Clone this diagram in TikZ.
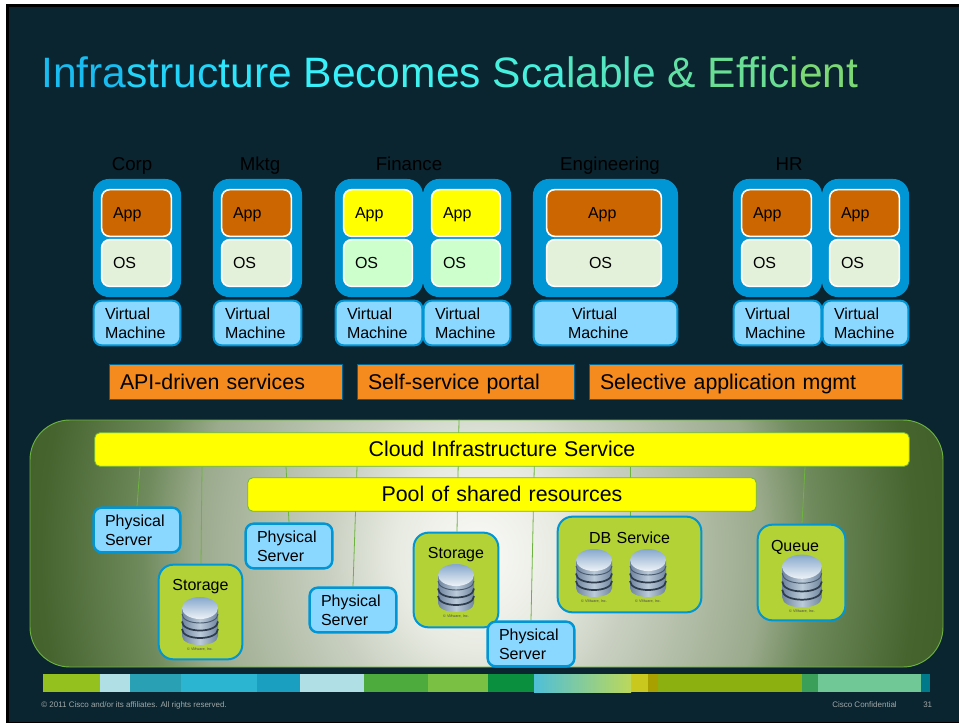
\documentclass[tikz,border=0pt]{standalone}
\usepackage{fontspec}
\setmainfont{Liberation Sans}
\usetikzlibrary{calc}
\pgfdeclarelayer{back}\pgfdeclarelayer{lines}
\pgfsetlayers{back,lines,main}
\definecolor{slidebg}{HTML}{0A2530}
\definecolor{vmblue}{HTML}{0095D5}
\definecolor{skyfill}{HTML}{8AD8FF}
\definecolor{appbrown}{HTML}{CC6600}
\definecolor{ospale}{HTML}{E3F0DA}
\definecolor{osmint}{HTML}{CCFFCC}
\definecolor{orangefill}{HTML}{F58A1F}
\definecolor{limefill}{HTML}{B2D235}
\definecolor{linkgreen}{HTML}{6DB33F}
\definecolor{footgrey}{HTML}{A0A8A8}
\definecolor{panelouter}{HTML}{3D5C26}
\definecolor{panelA}{HTML}{FAFAF7}
\definecolor{panelAB}{HTML}{E8EBE2}
\definecolor{panelB}{HTML}{C8CFC0}
\definecolor{panelC}{HTML}{9AAA8C}
\definecolor{panelCD}{HTML}{6F8A5C}
\definecolor{panelD}{HTML}{45642E}
\definecolor{pureyellow}{RGB}{255,255,0}
\definecolor{dbtop}{HTML}{86A8CC}
\definecolor{dbpale}{HTML}{EEF3F7}
\definecolor{dbside}{HTML}{6F859E}
\definecolor{dbmid}{HTML}{BCCBDA}
\definecolor{dbdark}{HTML}{2E3C4C}
\pgfdeclareradialshading{panelshade}{\pgfpoint{0bp}{0bp}}{
 color(0bp)=(panelA);
 color(8bp)=(panelAB);
 color(15bp)=(panelB);
 color(28bp)=(panelC);
 color(33bp)=(panelCD);
 color(43bp)=(panelD);
 color(50bp)=(panelouter);
 color(100bp)=(panelouter)}
\newcommand{\bx}[8]{%
 \pgfmathsetmacro\bxw{(#5-#3)*0.75-1}\pgfmathsetmacro\bxh{(#6-#4)*0.75-1}\pgfmathsetmacro\bxt{(#5-#3-2*#7)*0.75}\pgfmathsetmacro\bxp{#7*0.75-0.5}%
 \node[#1,minimum width=\bxw pt,minimum height=\bxh pt,text width=\bxt pt,inner xsep=\bxp pt,inner ysep=0pt] (#2) at ({(#3+#5)/2},{(#4+#6)/2}) {#8};}
\tikzset{
 tenant/.style={font=\fontsize{14}{16}\selectfont,text=black,anchor=base,inner sep=0pt},
 hostbg/.style={draw=none,fill=vmblue,rounded corners=12pt},
 appbox/.style={draw=white,line width=1.2pt,fill=#1,rounded corners=6pt,align=left,font=\fontsize{12}{14.4}\selectfont,text=black,text height=10pt,text depth=2pt},
 vmbox/.style={draw=vmblue,line width=1.5pt,fill=skyfill,rounded corners=6pt,align=left,font=\fontsize{12}{14.4}\selectfont,text=black},
 srvbox/.style={draw=vmblue,line width=1.8pt,fill=skyfill,rounded corners=6pt,align=left,font=\fontsize{12}{14.4}\selectfont,text=black},
 limebox/.style={draw=vmblue,line width=1.5pt,fill=limefill,rounded corners=11pt,align=#1,font=\fontsize{12}{14.4}\selectfont,text=black},
 orangebox/.style={draw=vmblue!70!black,line width=0.6pt,fill=orangefill,align=left,font=\fontsize{16}{19}\selectfont,text=black,text height=13pt,text depth=2.5pt},
 yellowbar/.style={draw=linkgreen,line width=0.6pt,fill=pureyellow,rounded corners=4pt,align=center,font=\fontsize{16}{19}\selectfont,text=black,text height=13.5pt,text depth=3pt},
 link/.style={draw=linkgreen,line width=0.6pt},
 foot/.style={font=\fontsize{6}{7}\selectfont,text=footgrey,anchor=west,inner sep=0pt},
 pics/dbicon/.style n args={1}{code={
  \begin{scope}[scale=#1]
   \shade[left color=dbside,right color=dbside,middle color=dbmid]
     (-18,-13) -- (-18,15) .. controls (-18,27) and (18,27) .. (18,15) -- (18,-13) -- cycle;
   \foreach \yy in {0.5,8}{
     \draw[dbdark,line width=1.3pt] (-18,\yy) .. controls (-18,\yy+12) and (18,\yy+12) .. (18,\yy);}
   \draw[dbdark!60!dbside,line width=0.7pt] (-18,-7) .. controls (-18,5) and (18,5) .. (18,-7);
   \shade[top color=dbtop,bottom color=dbpale] (0,-13) ellipse[x radius=18,y radius=11];
   \node[font=\fontsize{2.8}{3}\selectfont,text=black!70,inner sep=0pt] at (0,28) {© VMware, Inc.};
  \end{scope}}}
}
\begin{document}
\begin{tikzpicture}[x=0.75pt,y=-0.75pt]
\useasboundingbox (0,0) rectangle (959,723);
\begin{pgfonlayer}{back}
 \fill[white] (0,0) rectangle (959,723);
 \fill[black] (6,4) rectangle (959,723);
 \fill[slidebg] (9,7) rectangle (959,721.5);
 \begin{scope}
  \clip[rounded corners=30pt] (30,420) rectangle (943,667);
  \begin{scope}[cm={7.6,0,0,8.6,(478,555)}]
   \pgflowlevelsynccm
   \pgfuseshading{panelshade}
  \end{scope}
 \end{scope}
 \node[draw=linkgreen,line width=0.7pt,rounded corners=30pt,minimum width=684.75pt,minimum height=185.25pt,inner sep=0pt] (panel) at (486.5,543.5) {};
 % colour strip
 \foreach \a/\b/\c in {43/100/95C11F,100/130/B0DFE5,130/181/2AA0B5,181/257/2BB5D0,257/300/1A9FC0,300/364/B0DFE5,364/428/4DAA3C,428/488/7AC143,488/534/0A8F3E,631/648/C8C81E,648/658/A8A000,658/802/8CB010,802/818/3A9F58,818/921/70C896,921/930/007A8A}{
  \definecolor{stripc}{HTML}{\c}
  \fill[stripc] (\a,674) rectangle (\b,692);}
 \definecolor{stripa}{HTML}{4FBFD8}\definecolor{stripb}{HTML}{BCD85A}
 \shade[left color=stripa,right color=stripb] (534,674) rectangle (631,692);
\end{pgfonlayer}

\node[anchor=base west,inner sep=0pt,font=\fontsize{31.9}{38}\selectfont] (title) at (41,88) {%
\textcolor[HTML]{18BCF0}{Infra}\textcolor[HTML]{24D4F8}{struc}\textcolor[HTML]{2EE6FC}{ture }\textcolor[HTML]{38F0FA}{Bec}\textcolor[HTML]{40F2EE}{omes }\textcolor[HTML]{46F0DC}{Sca}\textcolor[HTML]{54E6C0}{lable }\textcolor[HTML]{62E0A4}{\& }\textcolor[HTML]{6ADE94}{Effic}\textcolor[HTML]{7CD874}{ient}};

\node[tenant] (corp) at (132,171) {Corp};
\node[tenant] (mktg) at (260,171) {Mktg};
\node[tenant] (fin) at (409,171) {Finance};
\node[tenant] (eng) at (610,171) {Engineering};
\node[tenant] (hr) at (789,171) {HR};

% host 1
\bx{hostbg}{h1}{92.3}{178.3}{181.7}{297.7}{0}{}
\bx{appbox=appbrown}{a1}{101}{189}{172}{237}{12}{App}
\bx{appbox=ospale}{o1}{101}{239}{172}{287}{12}{OS}
\bx{vmbox}{v1}{93}{300}{181}{346}{12}{Virtual\\Machine}
% host 2
\bx{hostbg}{h2}{212.3}{178.3}{302.7}{297.7}{0}{}
\bx{appbox=appbrown}{a2}{221}{189}{292}{237}{12}{App}
\bx{appbox=ospale}{o2}{221}{239}{292}{287}{12}{OS}
\bx{vmbox}{v2}{213}{300}{302}{346}{12}{Virtual\\Machine}
% host 3
\bx{hostbg}{h3}{334.3}{178.3}{423.7}{297.7}{0}{}
\bx{appbox=pureyellow}{a3}{343}{189}{413}{237}{12}{App}
\bx{appbox=osmint}{o3}{343}{239}{413}{287}{12}{OS}
\bx{vmbox}{v3}{335}{300}{423}{346}{12}{Virtual\\Machine}
% host 4
\bx{hostbg}{h4}{422.3}{178.3}{511.7}{297.7}{0}{}
\bx{appbox=pureyellow}{a4}{431}{189}{501}{237}{12}{App}
\bx{appbox=osmint}{o4}{431}{239}{501}{287}{12}{OS}
\bx{vmbox}{v4}{423}{300}{511}{346}{12}{Virtual\\Machine}
% host 5
\bx{hostbg}{h5}{532.3}{178.3}{678.7}{297.7}{0}{}
\bx{appbox=appbrown}{a5}{546}{189}{662}{237}{42}{App}
\bx{appbox=ospale}{o5}{546}{239}{662}{287}{43}{OS}
\bx{vmbox}{v5}{533}{300}{678}{346}{35}{\hspace*{3pt}Virtual\\Machine}
% host 6
\bx{hostbg}{h6}{732.3}{178.3}{822.7}{297.7}{0}{}
\bx{appbox=appbrown}{a6}{741}{189}{812}{237}{12}{App}
\bx{appbox=ospale}{o6}{741}{239}{812}{287}{12}{OS}
\bx{vmbox}{v6}{733}{300}{822}{346}{12}{Virtual\\Machine}
% host 7
\bx{hostbg}{h7}{821.3}{178.3}{909.7}{297.7}{0}{}
\bx{appbox=appbrown}{a7}{829}{189}{900}{237}{12}{App}
\bx{appbox=ospale}{o7}{829}{239}{900}{287}{12}{OS}
\bx{vmbox}{v7}{822}{300}{909}{346}{12}{Virtual\\Machine}

\bx{orangebox}{api}{109}{364}{343}{400}{11}{API-driven services}
\bx{orangebox}{self}{357}{364}{575}{400}{11}{Self-service portal}
\bx{orangebox}{sel}{589}{364}{903}{400}{11}{Selective application mgmt}

\bx{yellowbar}{cloud}{94}{432}{910}{467}{0}{Cloud Infrastructure Service}
\bx{yellowbar}{pool}{247}{477}{757}{512}{0}{Pool of shared resources}

\bx{srvbox}{ps1}{93}{507}{181}{553}{12}{Physical\\Server}
\bx{srvbox}{ps2}{245}{523}{333}{569}{12}{Physical\\Server}
\bx{srvbox}{ps3}{309}{587}{397}{633}{12}{Physical\\Server}
\bx{limebox=center}{st1}{158}{564}{243}{660}{0}{Storage\\[26pt]\mbox{}}
\bx{limebox=center}{st2}{413}{532}{499}{628}{0}{Storage\\[26pt]\mbox{}}
\bx{limebox=center}{db}{557}{516}{702}{613}{0}{DB Service\\[26pt]\mbox{}}
\bx{limebox=left}{qu}{757}{524}{846}{621}{14}{Queue\\[26pt]\mbox{}}
\bx{srvbox}{ps4}{487}{621}{575}{667}{12}{Physical\\Server}

\pic at (200,621) {dbicon={1}};
\pic at (456,588) {dbicon={1}};
\pic at (594,573) {dbicon={1}};
\pic at (648,573) {dbicon={1}};
\pic at (802,581) {dbicon={1.1}};

\begin{pgfonlayer}{lines}
 \draw[link] (cloud.south -| 140,0) -- (ps1.north -| 137,0);
 \draw[link] (cloud.south -| 202,0) -- (st1.north -| 201,0);
 \draw[link] (cloud.south -| 286,0) -- (ps2.north -| 289,0);
 \draw[link] (cloud.south -| 357,0) -- (ps3.north -| 353,0);
 \draw[link] (panel.north -| 459,0) -- (st2.north -| 457,0);
 \draw[link] (cloud.north -| 535,0) -- (ps4.north -| 531,0);
 \draw[link] (cloud.south -| 630,0) -- (db.north -| 630,0);
 \draw[link] (cloud.south -| 805,0) -- (qu.north -| 802,0);
\end{pgfonlayer}

\node[foot] (copy) at (41,705) {© 2011 Cisco and/or its affiliates. All rights reserved.};
\node[foot] (conf) at (832,705) {Cisco Confidential};
\node[foot] (page) at (923,705) {31};
\end{tikzpicture}
\end{document}
